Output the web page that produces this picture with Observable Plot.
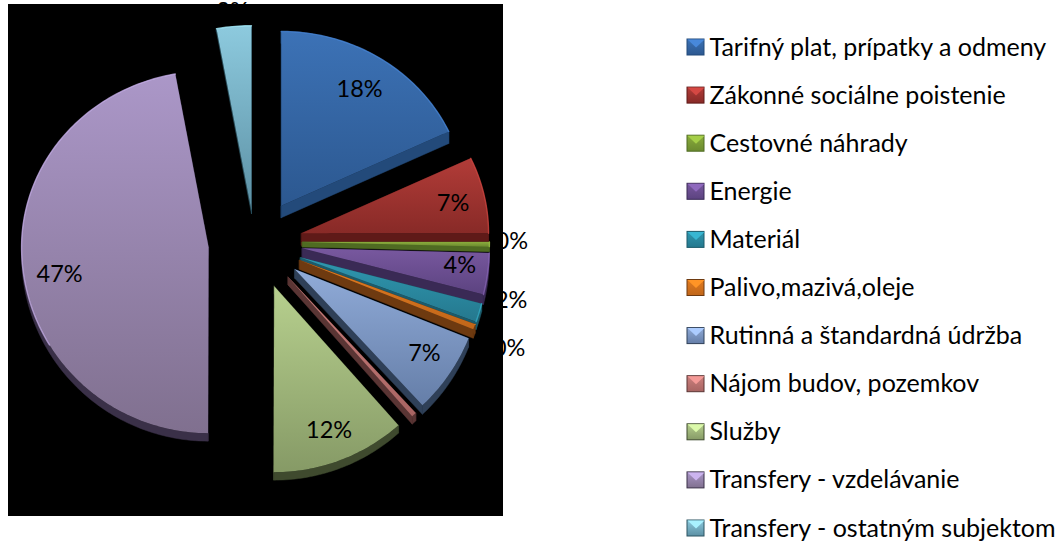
<!DOCTYPE html>
<html><head><meta charset="utf-8">
<script src="https://cdn.jsdelivr.net/npm/d3@7"></script>
<script src="https://cdn.jsdelivr.net/npm/@observablehq/plot@0.6"></script>
<style>html,body{margin:0;padding:0;background:#fff;overflow:hidden}svg{display:block}</style>
</head><body><div id="chart"></div>
<script>
// ---- data
const categories = ["Tarifný plat, prípatky a odmeny","Zákonné sociálne poistenie","Cestovné náhrady","Energie","Materiál","Palivo,mazivá,oleje","Rutinná a štandardná údržba","Nájom budov, pozemkov","Služby","Transfery - vzdelávanie","Transfery - ostatným subjektom"];
const values = [18,7,0.4,3.6,1.6,0.45,7,0.4,11.6,47.1,2.85];
const labels = ["18%","7%","0%","4%","2%","0%","7%","0%","12%","47%","3%"];
// ---- exploded-pie styling
const faceTop = ["#3c72b6","#b23c38","#8aac3c","#78589f","#2f98b0","#e27c20","#90abd8","#cc817e","#b7d08e","#ab97c8","#8dcade"];
const faceBot = ["#2c5890","#882a27","#6b8a2f","#5c4380","#25788e","#c0661a","#657ea8","#a86462","#869a66","#80708f","#5c90a4"];
const sideCol = ["#234a7a","#5f1a18","#4f6b22","#3a2a55","#1c5b6b","#6e3a10","#2f4058","#5a3534","#3f4a2e","#3a3048","#2d5562"];
const explode  = [45,44.5,44,44,44,44,44,44,44.5,50,34.7];
const pullTurn = [-2,-2,-4,-3,0,0,0,0,0,2,-6.6];
const radiusK = [0.99,1,1,1,1,1,1,1,1,1,1.05];
const depth   = [12,12,5,10,8,9,9,8,8,8,3];
const labelR  = [0.79,0.83,1.12,0.85,1.18,1.2,0.84,1.2,0.83,0.80,1.08];
const labelDy = [0,2,-3,-5,-22,8,-4,0,0,14,0];
const W = 1057, H = 542, cx = 258, cy = 244, rx = 187, ryTop = 176, ryBot = 186;

const arcs = d3.pie().sort(null)(values);
const faces = [], sides = [], rims = [], labelRows = [];
arcs.forEach((a, i) => {
  const mid = (a.startAngle + a.endAngle) / 2;
  const dir = mid + pullTurn[i] * Math.PI / 180;
  const ax = cx + explode[i] * Math.sin(dir), ay = cy - explode[i] * Math.cos(dir);
  const at = (t, k = 1) => {
    const c = Math.cos(t), ry = c > 0 ? ryTop : ryBot;
    return [ax + k * radiusK[i] * rx * Math.sin(t), ay - k * radiusK[i] * ry * c];
  };
  const n = Math.max(2, Math.ceil((a.endAngle - a.startAngle) * 60));
  const arc = d3.range(n + 1).map(j => at(a.startAngle + (a.endAngle - a.startAngle) * j / n));
  const d = depth[i];
  const shift = p => [p[0], p[1] + d];
  const push = (id, pts) => pts.forEach(p => sides.push({id, x: p[0], y: p[1], color: sideCol[i]}));
  push(`${i}a`, [...arc, ...arc.slice().reverse().map(shift)]);
  push(`${i}b`, [[ax, ay], arc[0], shift(arc[0]), [ax, ay + d]]);
  push(`${i}c`, [[ax, ay], arc[n], shift(arc[n]), [ax, ay + d]]);
  [[ax, ay], ...arc].forEach(p => faces.push({id: i, x: p[0], y: p[1], fill: `url(#g${i})`}));
  arc.forEach((p, j) => {
    const t = a.startAngle + (a.endAngle - a.startAngle) * j / n;
    if (Math.cos(t) > -0.35 || Math.sin(t) < -0.85) rims.push({id: i, x: p[0], y: p[1], color: d3.color(faceTop[i]).brighter(0.5).formatHex()});
  });
  const L = at(mid, labelR[i]);
  labelRows.push({x: L[0], y: L[1] + labelDy[i], t: labels[i]});
});

// ---- legend
const rowY = i => 47 + 48.1 * i;
const legend = categories.map((c, i) => ({c, i, y: rowY(i), x: 709}));
const swatchTri = categories.flatMap((c, i) => [[687, -8], [704, -8], [695.5, 0]].map(p => ({id: i, x: p[0], y: rowY(i) + p[1], fill: d3.color(faceTop[i]).brighter(0.5).formatHex()})));

const chart = Plot.plot({
  width: W, height: H, margin: 0,
  x: {domain: [0, W], range: [0, W], axis: null},
  y: {domain: [0, H], range: [0, H], axis: null},
  color: {type: "identity"},
  style: {background: "#fff", fontFamily: "Lato, Carlito, sans-serif"},
  marks: [
    Plot.rect([0], {x1: () => 8, x2: () => 503, y1: () => 4, y2: () => 516, fill: "#000"}),
    Plot.line(sides, {x: "x", y: "y", z: "id", fill: "color", stroke: "color", strokeWidth: 0.5, curve: "linear-closed"}),
    Plot.line(faces, {x: "x", y: "y", z: "id", fill: "fill", stroke: "none", curve: "linear-closed"}),
    Plot.line(rims, {x: "x", y: "y", z: "id", stroke: "color", strokeWidth: 1.4, strokeOpacity: 0.7}),
    Plot.text(labelRows, {x: "x", y: "y", text: "t", fill: "#000", fontSize: 23.5}),
    Plot.rect(legend, {x1: () => 687, x2: () => 704, y1: d => d.y - 8, y2: d => d.y + 8, fill: d => `url(#g${d.i})`, stroke: d => sideCol[d.i], strokeWidth: 1}),
    Plot.line(swatchTri, {x: "x", y: "y", z: "id", fill: "fill", stroke: "none", curve: "linear-closed"}),
    Plot.text(legend, {x: "x", y: "y", text: "c", textAnchor: "start", fill: "#000", fontSize: 25})
  ]
});
const defs = d3.select(chart).insert("defs", ":first-child");
faceTop.forEach((c, i) => {
  const g = defs.append("linearGradient").attr("id", `g${i}`).attr("x1", 0).attr("x2", 0).attr("y1", 0).attr("y2", 1);
  g.append("stop").attr("offset", 0).attr("stop-color", c);
  g.append("stop").attr("offset", 1).attr("stop-color", faceBot[i]);
});
document.getElementById("chart").append(chart);
</script></body></html>
